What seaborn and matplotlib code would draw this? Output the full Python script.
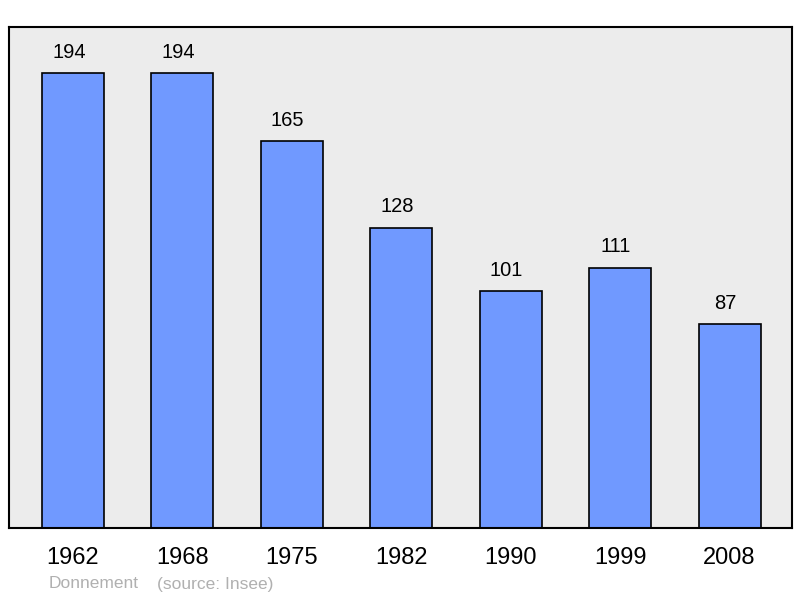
import pandas as pd
import seaborn as sns
import matplotlib.pyplot as plt

years = ["1962", "1968", "1975", "1982", "1990", "1999", "2008"]
population = [194, 194, 165, 128, 101, 111, 87]

df = pd.DataFrame({"year": years, "pop": population})

sns.set_style("white")
plt.rcParams["font.family"] = ["Liberation Sans", "DejaVu Sans"]

fig = plt.figure(figsize=(8, 5.98), dpi=100)
ax = fig.add_axes([9 / 800, 70 / 598, 783 / 800, 501 / 598])
ax.set_facecolor("#ececec")

sns.barplot(data=df, x="year", y="pop", color="#7099ff", saturation=1,
            edgecolor="black", linewidth=1.2, width=0.567, ax=ax)

# value labels above bars, sitting a touch left of centre like the original
for i, v in enumerate(population):
    ax.annotate(str(v), (i, v), xytext=(-3, 15), textcoords="offset points",
                ha="center", va="center", fontsize=14.5, color="black")

ax.set_xlim(-0.585, 6.57)
ax.set_ylim(0, 213.6)
ax.set_yticks([])
ax.set_xlabel("")
ax.set_ylabel("")
ax.tick_params(axis="x", length=0, pad=14, labelsize=17, labelcolor="black")
for s in ax.spines.values():
    s.set_visible(True)
    s.set_color("black")
    s.set_linewidth(1.5)

fig.text(49 / 800, 1 - 584 / 598, "Donnement", color="#b0b0b0", fontsize=12.5, va="center")
fig.text(157 / 800, 1 - 584 / 598, "(source: Insee)", color="#b0b0b0", fontsize=12.5, va="center")

fig.savefig("out.png", dpi=100)
